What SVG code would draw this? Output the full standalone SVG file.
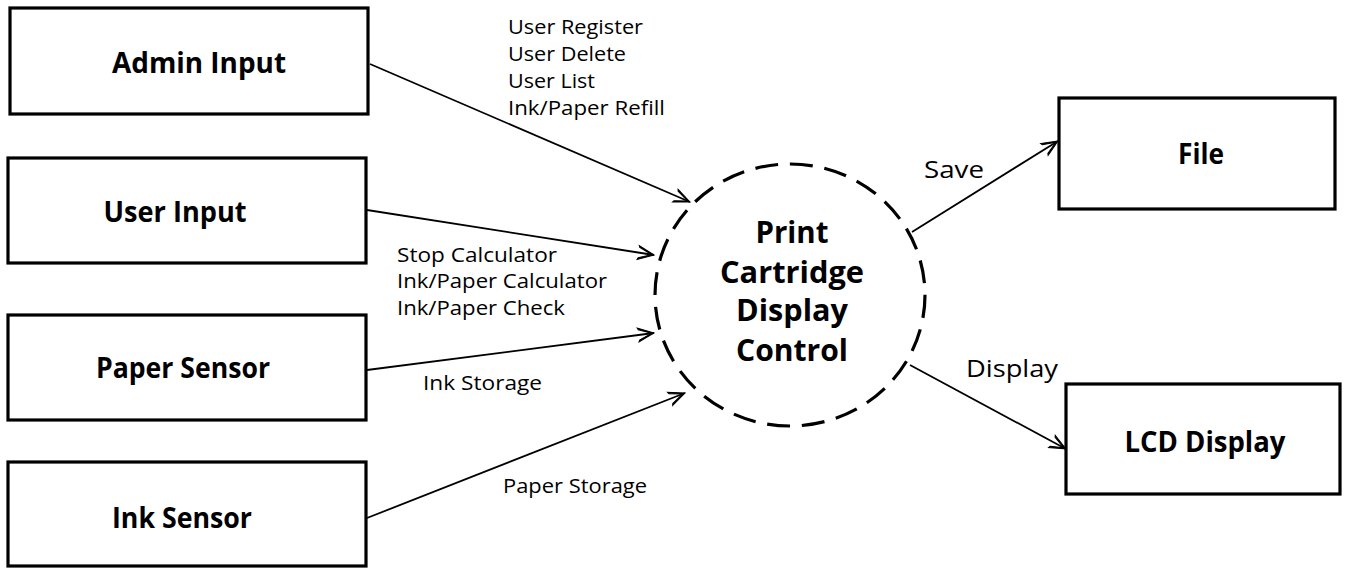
<svg xmlns="http://www.w3.org/2000/svg" width="1349" height="575" viewBox="0 0 1349 575">
  <style>
    .box { fill: #ffffff; stroke: #000000; stroke-width: 3.2; }
    .title { font-family: "Open Sans", "Liberation Sans", sans-serif; font-weight: bold; font-size: 28px; fill: #000000; text-anchor: middle; }
    .big { font-size: 30px; }
    .label { font-family: "Open Sans", "Liberation Sans", sans-serif; font-size: 19.5px; fill: #000000; }
    .label-lg { font-family: "Open Sans", "Liberation Sans", sans-serif; font-size: 24px; fill: #000000; }
    .flow { fill: none; stroke: #000000; stroke-width: 1.8; marker-end: url(#arrow); }
    .process { fill: none; stroke: #000000; stroke-width: 3.2; stroke-dasharray: 23 11.8; }
  </style>
  <defs>
    <marker id="arrow" markerUnits="userSpaceOnUse" markerWidth="20" markerHeight="20" viewBox="-18 -10 20 20" refX="0" refY="0" orient="auto">
      <path d="M0,0 L-16,-7 L-15.2,-5.2 L-2.5,0 L-15.2,5.2 L-16,7 Z" fill="#000000" stroke="#000000" stroke-width="1" stroke-linejoin="miter"/>
    </marker>
  </defs>

  <rect width="1349" height="575" fill="#ffffff"/>

  <!-- external entities -->
  <g id="admin-input">
    <rect class="box" x="10" y="8" width="358" height="106"/>
    <text class="title" x="199" y="73" textLength="174" lengthAdjust="spacingAndGlyphs">Admin Input</text>
  </g>
  <g id="user-input">
    <rect class="box" x="8" y="158" width="358" height="105"/>
    <text class="title" x="175" y="222" textLength="143" lengthAdjust="spacingAndGlyphs">User Input</text>
  </g>
  <g id="paper-sensor">
    <rect class="box" x="8" y="315" width="358" height="105"/>
    <text class="title" x="183" y="378" textLength="174" lengthAdjust="spacingAndGlyphs">Paper Sensor</text>
  </g>
  <g id="ink-sensor">
    <rect class="box" x="8" y="462" width="358" height="104"/>
    <text class="title" x="182" y="528" textLength="140" lengthAdjust="spacingAndGlyphs">Ink Sensor</text>
  </g>
  <g id="file">
    <rect class="box" x="1059" y="98" width="276" height="111"/>
    <text class="title" x="1201" y="164" textLength="46" lengthAdjust="spacingAndGlyphs">File</text>
  </g>
  <g id="lcd-display">
    <rect class="box" x="1066" y="384" width="274" height="110"/>
    <text class="title" x="1205" y="452" textLength="161" lengthAdjust="spacingAndGlyphs">LCD Display</text>
  </g>

  <!-- central process -->
  <g id="print-cartridge-display-control">
    <ellipse class="process" cx="790" cy="295" rx="135" ry="131"/>
    <text class="title big" x="792" y="243" textLength="73" lengthAdjust="spacingAndGlyphs">Print</text>
    <text class="title big" x="792" y="283" textLength="144" lengthAdjust="spacingAndGlyphs">Cartridge</text>
    <text class="title big" x="792" y="321" textLength="112" lengthAdjust="spacingAndGlyphs">Display</text>
    <text class="title big" x="792" y="361" textLength="112" lengthAdjust="spacingAndGlyphs">Control</text>
  </g>

  <!-- data flows -->
  <g id="connectors">
    <line class="flow" x1="370" y1="64" x2="690" y2="202"/>
    <line class="flow" x1="367" y1="210" x2="654" y2="255"/>
    <line class="flow" x1="367" y1="370" x2="654" y2="333"/>
    <line class="flow" x1="367" y1="518" x2="685" y2="393"/>
    <line class="flow" x1="912" y1="232" x2="1058" y2="141"/>
    <line class="flow" x1="910" y1="365" x2="1066" y2="449"/>
  </g>

  <!-- flow labels -->
  <g id="flow-labels">
    <text class="label" x="508" y="34" textLength="135" lengthAdjust="spacingAndGlyphs">User Register</text>
    <text class="label" x="508" y="61" textLength="118" lengthAdjust="spacingAndGlyphs">User Delete</text>
    <text class="label" x="508" y="88" textLength="87" lengthAdjust="spacingAndGlyphs">User List</text>
    <text class="label" x="508" y="115" textLength="157" lengthAdjust="spacingAndGlyphs">Ink/Paper Refill</text>
    <text class="label" x="397" y="262" textLength="160" lengthAdjust="spacingAndGlyphs">Stop Calculator</text>
    <text class="label" x="397" y="288" textLength="210" lengthAdjust="spacingAndGlyphs">Ink/Paper Calculator</text>
    <text class="label" x="397" y="315" textLength="168" lengthAdjust="spacingAndGlyphs">Ink/Paper Check</text>
    <text class="label" x="423" y="390" textLength="119" lengthAdjust="spacingAndGlyphs">Ink Storage</text>
    <text class="label" x="503" y="493" textLength="144" lengthAdjust="spacingAndGlyphs">Paper Storage</text>
    <text class="label-lg" x="924" y="178" textLength="60" lengthAdjust="spacingAndGlyphs">Save</text>
    <text class="label-lg" x="966" y="377" textLength="92" lengthAdjust="spacingAndGlyphs">Display</text>
  </g>
</svg>
